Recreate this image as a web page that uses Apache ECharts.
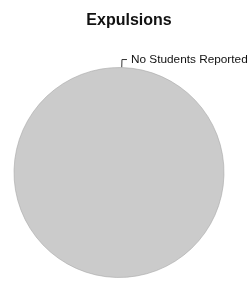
<!DOCTYPE html>
<html>
<head>
<meta charset="utf-8">
<script src="https://cdn.jsdelivr.net/npm/echarts@6/dist/echarts.min.js"></script>
<style>
html,body{margin:0;padding:0;background:#fff;}
#chart{width:252px;height:284px;}
</style>
</head>
<body>
<div id="chart"></div>
<script>
var categories = ['No Students Reported'];
var values = [1];

var myChart = echarts.init(document.getElementById('chart'));
var pieData = [];
for (var i = 0; i < categories.length; i++) {
	pieData.push({name: categories[i], value: values[i]});
}

myChart.setOption({
	animation: false,
	title: {
		text: 'Expulsions',
		left: 124,
		top: 8,
		textAlign: 'center',
		textStyle: {
			fontFamily: 'Liberation Sans',
			fontSize: 16,
			fontWeight: 'bold',
			color: '#111'
		}
	},
	series: [{
		type: 'pie',
		center: [119, 172.5],
		radius: 105,
		startAngle: 268.5,
		clockwise: true,
		data: pieData,
		itemStyle: {
			color: '#cbcbcb',
			borderColor: '#a8a8a8',
			borderWidth: 0.6
		},
		label: {
			show: true,
			fontFamily: 'Liberation Sans',
			fontSize: 11.8,
			color: '#111',
			overflow: 'none',
			distanceToLabelLine: 4
		},
		labelLine: {
			show: true,
			length: 8,
			length2: 5,
			smooth: false,
			lineStyle: {color: '#333', width: 1}
		},
		emphasis: {disabled: true}
	}]
});
</script>
</body>
</html>
